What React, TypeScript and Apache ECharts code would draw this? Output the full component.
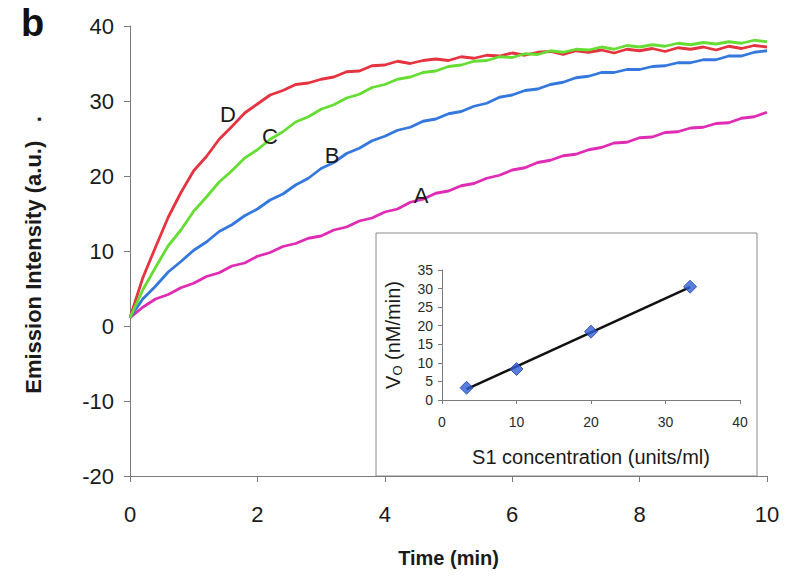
import React, { useEffect, useRef } from "react";
import * as echarts from "echarts";

const FONT = "'Liberation Sans', Arial, Helvetica, sans-serif";

// Time grid (min)
const time = [
  0, 0.2, 0.4, 0.6, 0.8, 1.0, 1.2, 1.4, 1.6, 1.8,
  2.0, 2.2, 2.4, 2.6, 2.8, 3.0, 3.2, 3.4, 3.6, 3.8,
  4.0, 4.2, 4.4, 4.6, 4.8, 5.0, 5.2, 5.4, 5.6, 5.8,
  6.0, 6.2, 6.4, 6.6, 6.8, 7.0, 7.2, 7.4, 7.6, 7.8,
  8.0, 8.2, 8.4, 8.6, 8.8, 9.0, 9.2, 9.4, 9.6, 9.8, 10.0,
];

// Emission intensity (a.u.)
const curveD = [
  1.1, 6.4, 10.5, 14.5, 17.8, 20.7, 22.6, 24.9, 26.6, 28.4,
  29.6, 30.8, 31.4, 32.2, 32.4, 32.9, 33.2, 33.9, 34.0, 34.7,
  34.8, 35.3, 35.0, 35.4, 35.6, 35.4, 35.9, 35.7, 36.1, 36.0,
  36.4, 36.1, 36.5, 36.6, 36.2, 36.7, 36.5, 36.8, 36.4, 36.9,
  36.7, 37.0, 36.6, 37.1, 36.9, 37.2, 36.8, 37.3, 37.0, 37.4, 37.2,
];
const curveC = [
  1.1, 4.8, 7.8, 10.7, 12.8, 15.3, 17.2, 19.2, 20.7, 22.4,
  23.5, 24.9, 25.9, 27.2, 27.9, 28.9, 29.5, 30.4, 30.9, 31.8,
  32.2, 32.9, 33.2, 33.8, 34.0, 34.6, 34.8, 35.3, 35.4, 35.9,
  35.8, 36.3, 36.2, 36.7, 36.5, 36.9, 36.8, 37.2, 36.9, 37.4,
  37.2, 37.5, 37.3, 37.7, 37.5, 37.8, 37.6, 37.9, 37.7, 38.1, 37.9,
];
const curveB = [
  1.1, 3.6, 5.3, 7.2, 8.6, 10.1, 11.2, 12.6, 13.5, 14.7,
  15.6, 16.8, 17.6, 18.8, 19.7, 21.0, 21.8, 23.0, 23.7, 24.7,
  25.3, 26.1, 26.5, 27.3, 27.6, 28.3, 28.6, 29.3, 29.7, 30.5,
  30.8, 31.4, 31.6, 32.2, 32.5, 33.1, 33.3, 33.8, 33.8, 34.2,
  34.2, 34.6, 34.7, 35.1, 35.1, 35.5, 35.5, 36.0, 36.0, 36.5, 36.7,
];
const curveA = [
  1.1, 2.5, 3.6, 4.2, 5.1, 5.7, 6.6, 7.1, 8.0, 8.4,
  9.3, 9.8, 10.6, 11.0, 11.7, 12.0, 12.8, 13.2, 14.0, 14.4,
  15.2, 15.6, 16.5, 16.9, 17.7, 18.0, 18.7, 19.0, 19.7, 20.1,
  20.8, 21.1, 21.8, 22.1, 22.7, 22.9, 23.5, 23.8, 24.4, 24.5,
  25.1, 25.2, 25.8, 25.9, 26.4, 26.5, 27.0, 27.1, 27.7, 27.9, 28.5,
];

// Inset: initial velocity vs S1 concentration
const s1Conc = [3.3, 10, 20, 33.3];
const v0 = [3.3, 8.35, 18.4, 30.5];
const fitX = [3.3, 33.3];
const fitY = [2.9, 30.4];

const curveNames = ["A", "B", "C", "D"];
const curveColors = ["#E02CB4", "#3478DE", "#66DD33", "#E5333F"];

export default function App() {
  const ref = useRef<HTMLDivElement>(null);

  useEffect(() => {
    if (!ref.current) return;
    const chart = echarts.init(ref.current, null, { renderer: "svg" });
    const curves = [curveA, curveB, curveC, curveD];
    const order = [0, 1, 3, 2];

    const axisGray = "#7a7a7a";

    const option: any = {
      animation: false,
      backgroundColor: "#ffffff",
      grid: [
        { left: 130, right: 33, top: 26, bottom: 110 },
        { left: 442, top: 270, width: 298, height: 130 },
      ],
      xAxis: [
        {
          gridIndex: 0,
          type: "value",
          min: 0,
          max: 10,
          interval: 2,
          axisLine: { show: true, onZero: false, lineStyle: { color: axisGray, width: 1 } },
          axisTick: { show: true, length: 6, lineStyle: { color: axisGray } },
          axisLabel: { fontSize: 22, color: "#1a1a1a", margin: 27, fontFamily: FONT },
          splitLine: { show: false },
          name: "Time (min)",
          nameLocation: "middle",
          nameGap: 72,
          nameTextStyle: { fontSize: 20, fontWeight: "bold", color: "#1a1a1a", fontFamily: FONT },
        },
        {
          gridIndex: 1,
          type: "value",
          min: 0,
          max: 40,
          interval: 10,
          axisLine: { show: true, onZero: false, lineStyle: { color: axisGray, width: 1 } },
          axisTick: { show: true, length: 4, lineStyle: { color: axisGray } },
          axisLabel: { fontSize: 14, color: "#2a2a2a", margin: 15, fontFamily: FONT },
          splitLine: { show: false },
          name: "S1 concentration (units/ml)",
          nameLocation: "middle",
          nameGap: 47,
          nameTextStyle: { fontSize: 20, color: "#1a1a1a", fontFamily: FONT },
        },
      ],
      yAxis: [
        {
          gridIndex: 0,
          type: "value",
          min: -20,
          max: 40,
          interval: 10,
          axisLine: { show: true, onZero: false, lineStyle: { color: axisGray, width: 1 } },
          axisTick: { show: true, length: 6, lineStyle: { color: axisGray } },
          axisLabel: { fontSize: 22, color: "#1a1a1a", margin: 16, fontFamily: FONT },
          splitLine: { show: false },
        },
        {
          gridIndex: 1,
          type: "value",
          min: 0,
          max: 35,
          interval: 5,
          axisLine: { show: true, onZero: false, lineStyle: { color: axisGray, width: 1 } },
          axisTick: { show: true, length: 4, lineStyle: { color: axisGray } },
          axisLabel: { fontSize: 14, color: "#2a2a2a", margin: 9, fontFamily: FONT },
          splitLine: { show: false },
          name: "{v|V}{s|O}{v| (nM/min)}",
          nameLocation: "middle",
          nameRotate: 90,
          nameGap: 38,
          nameTextStyle: {
            color: "#1a1a1a",
            fontFamily: FONT,
            rich: {
              v: { fontSize: 20, fontFamily: FONT, color: "#1a1a1a", lineHeight: 22 },
              s: {
                fontSize: 13,
                fontFamily: FONT,
                color: "#1a1a1a",
                verticalAlign: "bottom",
                lineHeight: 14,
                padding: [6, 0, 0, 0],
              },
            },
          },
        },
      ],
      graphic: [
        {
          type: "rect",
          z: 0,
          shape: { x: 376, y: 233, width: 381, height: 243 },
          style: { fill: "#ffffff", stroke: "#8a8a8a", lineWidth: 1 },
        },
        {
          type: "text",
          x: 21,
          y: 4,
          style: { text: "b", font: "bold 38px " + FONT, fill: "#111111" },
        },
        {
          type: "text",
          x: 33,
          y: 255,
          rotation: Math.PI / 2,
          style: {
            text: "Emission Intensity (a.u.)   .",
            font: "bold 22px " + FONT,
            fill: "#1a1a1a",
            textAlign: "center",
            textVerticalAlign: "middle",
          },
        },
        { type: "text", x: 228, y: 114, style: { text: "D", font: "22px " + FONT, fill: "#1a1a1a", textAlign: "center", textVerticalAlign: "middle" }, z: 10 },
        { type: "text", x: 270, y: 136, style: { text: "C", font: "22px " + FONT, fill: "#1a1a1a", textAlign: "center", textVerticalAlign: "middle" }, z: 10 },
        { type: "text", x: 332, y: 155, style: { text: "B", font: "22px " + FONT, fill: "#1a1a1a", textAlign: "center", textVerticalAlign: "middle" }, z: 10 },
        { type: "text", x: 421, y: 195, style: { text: "A", font: "22px " + FONT, fill: "#1a1a1a", textAlign: "center", textVerticalAlign: "middle" }, z: 10 },
      ],
      series: [
        ...order.map((k) => ({
          name: curveNames[k],
          type: "line",
          xAxisIndex: 0,
          yAxisIndex: 0,
          showSymbol: false,
          symbol: "none",
          smooth: false,
          lineStyle: { color: curveColors[k], width: 2.8 },
          itemStyle: { color: curveColors[k] },
          data: time.map((t, i) => [t, curves[k][i]]),
          z: 3,
        })),
        {
          name: "fit",
          type: "line",
          xAxisIndex: 1,
          yAxisIndex: 1,
          showSymbol: false,
          symbol: "none",
          lineStyle: { color: "#111111", width: 2.5 },
          data: fitX.map((x, i) => [x, fitY[i]]),
          z: 4,
        },
        {
          name: "V0",
          type: "scatter",
          xAxisIndex: 1,
          yAxisIndex: 1,
          symbol: "diamond",
          symbolSize: 13,
          itemStyle: { color: "#2F5ED6", borderColor: "#1F3FA8", borderWidth: 1 },
          data: s1Conc.map((x, i) => [x, v0[i]]),
          z: 5,
        },
      ],
    };

    chart.setOption(option);
    return () => chart.dispose();
  }, []);

  return (
    <div
      ref={ref}
      style={{ position: "fixed", left: 0, top: 0, width: 800, height: 586, background: "#fff" }}
    />
  );
}
